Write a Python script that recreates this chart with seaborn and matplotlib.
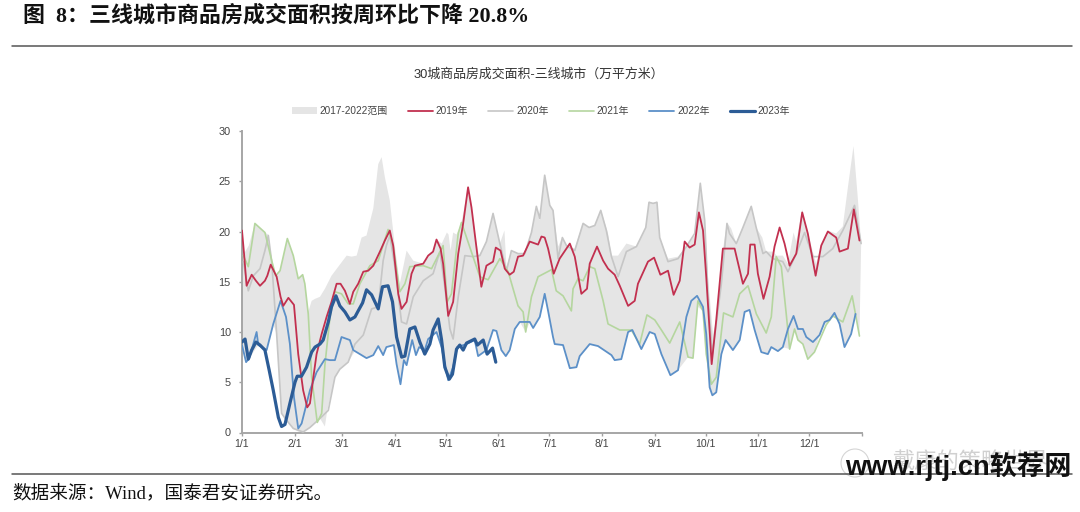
import matplotlib
matplotlib.use("Agg")
import matplotlib.pyplot as plt
from matplotlib.patches import Patch, Ellipse
from matplotlib.lines import Line2D
import pandas as pd
import seaborn as sns

month_ticks = [0, 31, 59, 90, 120, 151, 181, 212, 243, 273, 304, 334]
month_labels = ["1/1", "2/1", "3/1", "4/1", "5/1", "6/1", "7/1", "8/1", "9/1", "10/1", "11/1", "12/1"]

d2023 = [0,1.8,3.7,5.7,8.2,10.6,13.5,16,18.4,21.4,23.3,25.3,28.2,31.2,32.5,35,38,41,43,45.9,47.8,50.8,52.7,55.3,57.6,60.6,63.5,66.5,68.4,71,73.3,76.3,80.2,82.7,86,88.6,91,94,95.9,98.8,101.8,104.7,107.6,110.6,112.5,115.5,117.5,119.4,122,123.9,126.3,128.2,130.2,132.2,137,138.6,142,144.3,147.5,149.4]
v2023 = [9,9.3,7.3,8.2,9,8.7,8.2,6.2,4.2,1.5,0.6,0.8,2.9,5,5.6,5.6,6.5,8,8.5,8.8,9.2,11,12.5,13.6,12.6,12,11.2,11.5,12.1,12.9,14.2,13.7,12.3,14.5,14.6,13,9.5,7.5,7.6,10.3,10.5,9,7.8,8.8,10.2,11.3,9.2,6.5,5.3,5.8,8.3,8.7,8.2,8.9,9.3,8.7,9.2,7.8,8.4,7]

d2022 = [0,2.4,4.3,8.6,9.6,14.5,18.4,22.7,25.9,28.2,30.6,33.1,35.1,40,43.9,48.8,51.8,54.7,58.6,63.5,65.5,69.4,73.3,77.3,80.2,83.1,85,89.4,91,93.3,95.3,96.9,100.2,102.4,104.3,107.6,109.6,114.5,117.5,119.4,121.4,124.3,126.7,132.2,137,139,143.9,147.8,149.8,152.7,155.3,157.6,160.6,163.5,169.4,171.4,175.3,178.2,180.2,183.1,184.1,189,193,196.9,198.8,204.7,209.6,217.5,219.4,223.3,227.3,229.8,235.1,240,243,246.9,252.2,256.7,261.6,264.5,267.9,271.4,273.3,275.3,276.9,279.2,282.2,284.7,289,293,295.9,298.8,301.8,305.7,309.6,311.6,315.5,318.4,321.4,324.7,327.3,330.2,332.2,336.1,340,343,345.9,348.8,351.8,354.7,358.6,361.2]
v2022 = [8.7,7,7.4,10,8.7,8.2,10.8,13.1,11.5,8.8,3.5,0.4,0.9,4.2,6,7.3,7.2,7.2,9.5,9.2,8.2,7.8,7.4,7.7,8.6,7.7,8.5,8.7,6.8,4.8,7.2,6.7,9.2,7.7,8.5,8.2,9.3,10,8.5,6.8,5.2,6.5,8.5,8.8,9.2,7.6,8.2,10.2,10.1,8.2,7.6,8.2,10.3,11,11,10.4,11.5,13.8,12.1,9.5,8.8,8.7,6.4,6.5,7.6,8.8,8.6,7.7,7.2,7.3,10,10.2,8.3,10,9.8,7.8,5.7,6.2,11.5,13.1,13.6,12.5,9.8,4.5,3.7,4,7.8,9.2,8.2,9.2,12,12.2,10.2,8,7.8,8.5,8.1,8.5,10.3,11.6,10.3,10.3,9.5,9,9.7,11,11.2,11.9,10.8,8.5,9.8,11.8]

d2019 = [0,1.2,2.7,5.7,8.2,10.6,13.5,14.9,16.9,20.4,22.7,24.3,27.3,30.6,33.1,36,38.4,40,42,43.9,46.9,49.8,52.7,55.7,58,60.6,63.5,65.5,68.4,71.4,74.3,77.3,81.2,84.1,87,89,92,93.9,96.9,99.8,101.8,106.7,109.6,112.5,114.5,116.9,118.4,121.4,124.3,127.3,130.2,133.1,135.1,137,140.9,143.9,147.8,149.4,152.2,154.7,157.6,160,162.5,165.5,169.4,174.3,176.3,178.2,180.2,183.5,187,193,195.9,199.8,203.1,204.7,209,212.6,215.5,219.4,222.4,227.3,231.2,233.1,239,242.6,246.3,250.8,254.1,257.7,260.6,263.5,266.5,269,271.4,273.3,276.5,279.2,283.1,290,294.9,297.9,299.2,301.8,303.7,307,310.6,313.5,316.5,319.4,322.4,326.3,329.8,333.1,337.7,341,344.9,349.8,351.8,356.7,360.2,363.5]
v2019 = [20.1,17.8,14.6,15.7,15.1,14.6,15.1,15.6,16.7,15.5,13.5,12.6,13.4,12.7,7.8,4.2,2.5,2.9,5.5,7.8,9.8,11.5,13,14.8,14.8,14.1,12.8,14,14.8,16,16.1,16.6,18,19.1,20.1,18.6,13.8,12.3,13,15.8,16.6,16.8,17.6,18,19.2,18.3,16.8,11.6,13,17.8,20.8,24.4,22.4,19.8,14.5,16.6,17,18.4,18.1,16.3,15.7,16,17.5,17.6,19,18.7,19.5,19.4,18.3,15.8,17.3,18.8,17.5,13.8,14.3,16.8,18.5,17.1,16.3,15.7,14.6,12.6,13.1,14.8,17,17.4,15.7,16.1,13.7,15.1,19,18.4,18.7,21.9,20.1,15.5,6.8,11.2,18.3,18.3,14.8,15.8,18.7,18.7,15.8,13.3,15.5,18.5,20.4,18.8,16.6,17.8,21.9,19.8,15.6,18.6,20,19.4,18,18.3,22.2,19.1]

d2021 = [0.8,3.7,7.6,13.5,17.5,19.8,22.4,26.7,30.2,33.1,35.7,37,39,41,44.3,46.9,48.8,51.8,54.7,58.6,62.5,65.5,69.4,75.3,80.2,86,89,92.9,95.9,98.8,106.7,111.6,118.4,120.8,123.3,127.3,129.2,136,140,144.9,151.8,156.7,162.5,165.5,167,170.4,174.3,182.2,185,189,193.9,194.9,197.8,200.8,204.7,207.7,212.6,215.5,222.4,229.2,234.1,238.4,243,246.9,251.8,257.7,262.6,265.5,268.4,271.4,273.3,276.3,279.2,283.5,289,293,297.9,302.8,308.6,311.6,314.5,317.5,320.4,322.4,325.3,327.3,330.2,333.1,337,343.9,347.8,353.7,359.2,363.5]
v2021 = [17.6,16.5,20.8,19.9,17.1,15.6,16.1,19.3,17.6,15.3,15.7,14.8,11.8,5.5,1,1.9,6.7,11.5,14,13.8,12.8,12.8,14.8,16.6,17.1,20.2,18.6,14,14.8,16.5,16.6,16.3,18.6,13,13.8,19.8,20.9,17.5,15.5,15.2,17.3,16,12.6,12,10,13.5,15.5,16.2,14.1,13.6,12.1,14.3,15.3,15.1,16.5,16.3,13.1,10.8,10.2,10.2,8.8,11.7,11.2,10.2,8.9,11,7.5,7.4,13.1,12.1,7.8,4.8,5.5,11.9,11.5,13.8,14.6,11.8,9.9,11.5,17.5,16.5,11.8,8.3,10.3,9.2,8.8,7.3,8,10.7,11.6,11,13.6,9.6]

d2020 = [0.8,3.7,6.7,10.6,13.5,15.5,17.5,20.4,23.3,26.3,30.2,36,40,45.9,50.8,54.7,57.6,62.5,66.5,71.4,76.3,80.2,83.1,85,87,90,93.9,96.9,100.8,106.7,112.5,116.5,119.4,122.4,124.3,127.3,131.2,136,140,143.9,147.8,151.8,155.7,158.6,162.5,166.5,170.4,173.3,175.3,178.2,181.2,183.1,186.1,188.6,191,195.9,200.8,204.3,207.7,211.2,214.5,217.5,221.4,226.3,232.2,237.7,239.6,242,244.3,245.9,250.8,256.7,261.6,266.5,269.8,272.4,274.3,276.9,282.2,285.5,287,291,294.9,299.8,302.7,306.7,308.6,312.5,318.4,321.4,326.3,331.2,336.1,342,347.8,353.7,360.6,364.5]
v2020 = [17,14.1,15.6,16.3,18.1,19.6,17,9.8,1.9,1.2,0.4,0.05,0.5,1.4,2.2,5.5,6.3,7,8.8,9.7,12.3,12.5,17.1,18.6,19.6,16.5,11,10.8,13.5,15.1,15.8,18,14.5,10.3,9.3,13.5,17.6,17.5,17.6,19,21.8,18.8,16.1,18.1,17.8,17.8,19.9,22.5,21.3,25.6,22.6,22.1,17.3,19.4,18.6,18.1,20.8,20.4,20.6,22.1,20.1,17.5,15.5,18,18.5,20.4,22.9,22.8,22.9,19.4,17,17.3,18.5,19.8,24.8,21.1,13.8,7.8,14.8,20.8,19.8,18.8,20.4,22.5,20.4,17.8,18,17.3,17,16,17.8,19.9,17.5,17.5,18.3,20.1,22.6,18.8]

band_hi_d = [0,1.2,4,7.6,13.5,15.5,17.5,19.8,22.4,26.7,30.2,33.1,35.7,37,39,41,43,45.9,48.8,52.7,56.7,61.6,64.5,67.5,70.4,73.3,77.3,80.2,82.2,84.1,87,90,92.9,96.9,100.8,106.7,112.5,114.5,117.6,120.6,121.6,122.8,124.3,126.3,129.2,133.1,135.1,137,139.5,143.9,147.8,151.8,154.5,155.7,158.6,162.5,166.5,170.4,173.3,175.3,178.2,181.2,183.1,186.1,188.6,191,195.9,200.8,204.3,207.7,211.2,215.5,217.5,221.4,226.3,232.2,237.7,239.6,242,244.3,245.9,250.8,256.7,260.6,266.5,269.8,272.4,274.3,277.3,280.2,282.8,285.5,288,291,294.9,299.8,302.7,306.3,308.6,312.5,314.8,318.4,321.4,324.7,326.3,329.8,333.1,338,341,344.9,349.8,353.7,356.7,360,362.5,364.5]
band_hi_v = [20.1,17.8,18.6,20.8,19.9,19.7,17.1,15.6,16.1,19.3,17.6,15.3,15.7,14.8,12,13.1,13.3,13.5,14.3,15.6,16.5,17.6,17.5,17.6,19.4,19.6,22.3,26.7,27.4,25.4,23.1,18.5,14.8,18.1,17.1,16.8,18,19.2,18.8,19.9,19.7,18.1,19.9,19.7,20.9,24.4,22.4,19.8,17.6,19,21.8,18.8,20.1,16.5,18.1,17.8,17.8,19.9,22.5,21.1,25.6,22.6,22.1,18.5,19.4,18.6,18.3,20.9,20.4,20.6,22.2,19.8,17.6,17.6,18.8,18.5,20.4,23,22.8,23,19.4,17.3,17.5,18.3,19.6,24.8,21.1,15.5,9.8,11.8,17.8,20.9,20.3,18.8,20.4,22.6,20.4,19.4,18,18,17.6,17.6,16.8,19.9,19,22.2,19.8,16.8,18.6,20.1,19.8,20.5,24.4,28.5,23.4,18.8]
band_lo_d = [0,2.4,4.3,9.6,14.5,18.4,20.4,23.3,26.3,30.2,33,36,40,45.9,48.8,50.2,54.7,57.6,62.5,66.5,69.4,73.3,77.3,80.2,83.1,85,89.4,91,93.3,95.3,96.9,100.2,102.4,104.3,107.6,109.6,114.5,117.5,119.4,121.4,124.3,126.7,132.2,137,139,143.9,147.8,149.8,152.7,155.3,157.6,160.6,163.5,167,169.4,171.4,175.3,178.2,180.2,183.1,184.1,189,193,196.9,198.8,204.7,209.6,217.5,219.4,223.3,227.3,229.8,235.1,240,243,246.9,252.2,256.7,262.6,265.5,268.4,271.4,273.3,275.3,276.9,279.2,282.2,284.7,289,293,295.9,298.8,301.8,305.7,309.6,311.6,315.5,318.4,322.4,325.3,327.3,330.2,333.1,337,340,343,345.9,348.8,351.8,354.7,358.6,361.2,363.5,364.5]
band_lo_v = [8.7,7,7.4,8.7,8.2,10.8,9.8,1.9,1.2,0.4,0.1,0.05,0.5,1.4,0.6,2.2,5.5,6.3,7,8.1,7.8,7.4,7.7,8.6,7.7,8.5,8.7,6.8,4.8,7.2,6.7,9.2,7.7,8.5,8.2,9.3,10,8.5,6.8,5.2,6.5,8.5,8.8,9.2,7.6,8.2,10.2,10.1,8.2,7.6,8.2,10.3,11,10,11,10.4,11.5,13.8,12.1,9.5,8.8,8.7,6.4,6.5,7.6,8.8,8.6,7.7,7.2,7.3,10,10.2,8.3,10,9.8,7.8,5.7,6.2,7.5,7.4,12.5,12.1,7.8,4.5,3.7,4,7.8,9.2,8.2,9.2,12,12.2,10.2,8,7.8,8.5,8.1,8.5,8.3,10.3,9.2,8.8,7.3,8,9.7,10.7,11.2,11.6,10.8,8.5,9.8,11.8,9.6,18.8]

title_text = "图  8：三线城市商品房成交面积按周环比下降 20.8%"
chart_title = "30城商品房成交面积-三线城市（万平方米）"
source_text = "数据来源：Wind，国泰君安证券研究。"
mark_text = "www.rjtj.cn软荐网"
faint_text = "戴康的策略世界"
band_label = "2017-2022范围"

c_band, c_2019, c_2020, c_2021, c_2022, c_2023 = "#e5e5e5", "#c2304f", "#c6c6c6", "#b5d69f", "#5c90c8", "#2c5c96"

sns.set_theme(style="white")
sans = ["Liberation Sans", "Noto Sans CJK SC"]
serif = ["Liberation Serif", "Noto Sans CJK SC"]
plt.rcParams["font.family"] = sans

W, H = 1080, 512
fig = plt.figure(figsize=(W / 100, H / 100), dpi=100, facecolor="white")
ax = fig.add_axes([242 / W, 1 - 432.5 / H, 620 / W, 301.5 / H])

ax.fill(band_hi_d + band_lo_d[::-1], band_hi_v + band_lo_v[::-1], color=c_band, lw=0, zorder=1)

series = [("2020年", d2020, v2020, c_2020, 1.2),
          ("2021年", d2021, v2021, c_2021, 1.2),
          ("2022年", d2022, v2022, c_2022, 1.3),
          ("2019年", d2019, v2019, c_2019, 1.3),
          ("2023年", d2023, v2023, c_2023, 2.3)]
for name, d, v, c, lw in series:
    df = pd.DataFrame({"day": d, "value": v})
    sns.lineplot(data=df, x="day", y="value", color=c, lw=lw, ax=ax, errorbar=None, zorder=3,
                 legend=False, solid_joinstyle="round")

ax.set_xlim(0, 365)
ax.set_ylim(0, 30)
ax.set_xlabel("")
ax.set_ylabel("")
ax.set_xticks(month_ticks + [365])
ax.set_xticklabels(month_labels + [""])
ax.set_yticks(range(0, 31, 5))
ax.tick_params(axis="x", labelsize=7.6, colors="#444444", length=2.5, width=1, color="#a0a0a0", pad=2.5, bottom=True)
ax.tick_params(axis="y", labelsize=7.8, colors="#444444", length=2.5, width=1, color="#a0a0a0", pad=5.5, left=True)
for s in ("top", "right"):
    ax.spines[s].set_visible(False)
for s in ("left", "bottom"):
    ax.spines[s].set_color("#a6a6a6")
    ax.spines[s].set_linewidth(1.4)

handles = [Patch(color=c_band, lw=0, label=band_label)]
for name, c, lw in [("2019年", c_2019, 1.3), ("2020年", c_2020, 1.2), ("2021年", c_2021, 1.2), ("2022年", c_2022, 1.3), ("2023年", c_2023, 2.3)]:
    handles.append(Line2D([], [], color=c, lw=lw, label=name))
fig.legend(handles=handles, loc="center", bbox_to_anchor=(541 / W, 1 - 111 / H), ncol=6, frameon=False,
           fontsize=7.2, handlelength=2.5, handletextpad=0.3, columnspacing=2.0, labelcolor="#444444", borderpad=0)

fig.text(539 / W, 1 - 75 / H, chart_title, ha="center", va="center", fontsize=9.3, color="#333333", family=sans)
fig.text(23 / W, 1 - 16 / H, title_text, ha="left", va="center", fontsize=15.8, fontweight="bold", color="#111111", family=serif)
fig.text(12 / W, 1 - 493 / H, source_text, ha="left", va="center", fontsize=13.4, color="#111111", family=serif)

fig.add_artist(Line2D([12 / W, 1072 / W], [1 - 46 / H, 1 - 46 / H], color="#555555", lw=1.1))
fig.add_artist(Line2D([12 / W, 1072 / W], [1 - 474 / H, 1 - 474 / H], color="#555555", lw=1.1))

fig.add_artist(Ellipse((855 / W, 1 - 463 / H), 28 / W, 28 / H, fc="white", ec="#d5d5d5", lw=0.8))
fig.text(892 / W, 1 - 462 / H, faint_text, ha="left", va="center", fontsize=16, color="#d0d0d0", family=sans)
fig.text(845 / W, 1 - 466 / H, mark_text, ha="left", va="center", fontsize=19.6, fontweight="bold", color="#111111", family=sans)

fig.savefig("out.png", dpi=100)
